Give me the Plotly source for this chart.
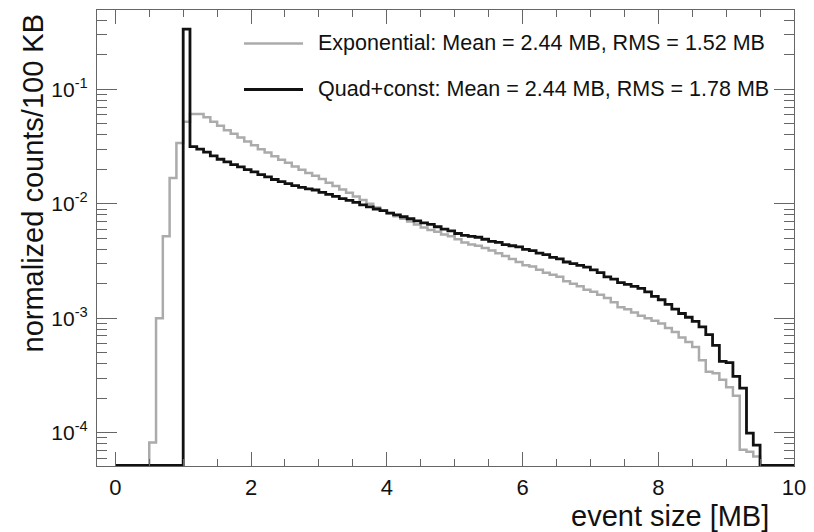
import numpy as np
import plotly.graph_objects as go

# bin edges: 100 bins of 0.1 MB (100 KB) from 0 to 10 MB
bin_edges = [round(0.1 * i, 1) for i in range(101)]

exp_counts = [
    0, 0, 0, 0, 0, 8.2e-5, 1.0e-3, 5.2e-3, 0.0168, 0.034,
    0.052, 0.061, 0.061, 0.057, 0.052, 0.048, 0.044, 0.041, 0.038, 0.035,
    0.0325, 0.030, 0.028, 0.026, 0.0243, 0.0228, 0.0212, 0.0198, 0.0186, 0.0176,
    0.0165, 0.0153, 0.0143, 0.0133, 0.0125, 0.0116, 0.0108, 0.0100, 0.0093, 0.0087,
    0.0083, 0.0078, 0.0074, 0.0070, 0.0066, 0.0062, 0.0059, 0.0057, 0.0054, 0.0052,
    0.0049, 0.0046, 0.0044, 0.0043, 0.0041, 0.0039, 0.0037, 0.0035, 0.0033, 0.0031,
    0.0029, 0.00283, 0.00265, 0.0025, 0.0024, 0.0023, 0.0021, 0.0020, 0.0019, 0.00177,
    0.00170, 0.00160, 0.00150, 0.00138, 0.00125, 0.00120, 0.00112, 0.00105, 0.00100, 0.00095,
    0.00090, 0.00082, 0.00076, 0.00068, 0.00062, 0.00056, 0.00043, 0.00034, 0.00033, 0.00029,
    0.00025, 0.00021, 7.1e-5, 6.8e-5, 6.2e-5, 0, 0, 0, 0, 0,
]

quad_counts = [
    0, 0, 0, 0, 0, 0, 0, 0, 0, 0,
    0.336, 0.0316, 0.0300, 0.0283, 0.0262, 0.0245, 0.0232, 0.0220, 0.0210, 0.0199,
    0.0190, 0.0180, 0.0172, 0.0163, 0.0156, 0.0150, 0.0144, 0.0139, 0.0135, 0.0132,
    0.0126, 0.0121, 0.0116, 0.0111, 0.0107, 0.0103, 0.0098, 0.0094, 0.0090, 0.0087,
    0.0083, 0.0080, 0.0077, 0.0074, 0.0071, 0.0068, 0.0066, 0.0063, 0.0060, 0.0058,
    0.0055, 0.0053, 0.0052, 0.0051, 0.0049, 0.0047, 0.0046, 0.0044, 0.0043, 0.0042,
    0.0040, 0.0039, 0.0037, 0.0036, 0.0034, 0.0033, 0.0031, 0.0030, 0.0029, 0.0028,
    0.00265, 0.0025, 0.0023, 0.0022, 0.00205, 0.00198, 0.0019, 0.00182, 0.00170, 0.00155,
    0.00145, 0.00132, 0.00120, 0.00110, 0.00102, 0.00094, 0.00084, 0.00072, 0.00058, 0.00042,
    0.00041, 0.00031, 0.000245, 9.9e-5, 7.8e-5, 0, 0, 0, 0, 0,
]

legend_labels = [
    "Exponential: Mean = 2.44 MB, RMS = 1.52 MB",
    "Quad+const: Mean = 2.44 MB, RMS = 1.78 MB",
]

x_ticks = [0, 2, 4, 6, 8, 10]
y_ticks = [1e-4, 1e-3, 1e-2, 1e-1]
y_ticktext = ["10<sup>-4</sup>", "10<sup>-3</sup>", "10<sup>-2</sup>", "10<sup>-1</sup>"]

W, H = 814, 532
L, R, T, B = 97, 20, 10, 66
y_range = [-4.291, -0.307]
x_range = [-0.27, 10.0]
floor = 10 ** y_range[0] * 1.01

FONT = "Liberation Sans, Arial, Helvetica, sans-serif"
AXIS_COL = "#666666"


def step_xy(counts):
    y = np.maximum(np.array(counts, dtype=float), floor)
    y = np.append(y, y[-1])
    return bin_edges, y


fig = go.Figure()
styles = [dict(color="#ababab", width=2.5), dict(color="#111111", width=2.8)]
for counts, st, name in zip([exp_counts, quad_counts], styles, legend_labels):
    xs, ys = step_xy(counts)
    fig.add_trace(
        go.Scatter(
            x=xs, y=ys, mode="lines", line=dict(shape="hv", **st),
            name=name, showlegend=False, hoverinfo="skip",
        )
    )

# legend drawn by hand (ROOT style)
plot_w = W - L - R
plot_h = H - T - B
for i, (name, st) in enumerate(zip(legend_labels, styles)):
    ypx = 43.5 + 46 * i
    yp = 1 - (ypx - T) / plot_h
    x0 = (244 - L) / plot_w
    x1 = (303 - L) / plot_w
    fig.add_shape(type="line", xref="paper", yref="paper", x0=x0, x1=x1, y0=yp, y1=yp,
                  line=dict(color=st["color"], width=st["width"]))
    fig.add_annotation(xref="paper", yref="paper", x=(316 - L) / plot_w, y=yp,
                       text=name, showarrow=False, xanchor="left", yanchor="middle",
                       font=dict(family=FONT, size=21.5, color="#111111"))

fig.add_annotation(xref="paper", yref="paper", x=(771 - L) / plot_w, y=-(516 - (H - B)) / plot_h,
                   text="event size [MB]", showarrow=False, xanchor="right", yanchor="middle",
                   font=dict(family=FONT, size=29, color="#111111"))
fig.add_annotation(xref="paper", yref="paper", x=-(L - 32) / plot_w, y=1 - (12 - T) / plot_h,
                   text="normalized counts/100 KB", showarrow=False, textangle=-90,
                   xanchor="center", yanchor="top",
                   font=dict(family=FONT, size=29, color="#111111"))

fig.update_xaxes(
    range=x_range, tickvals=x_ticks, ticktext=[str(v) for v in x_ticks],
    ticks="inside", ticklen=14, tickcolor=AXIS_COL, tickwidth=1,
    minor=dict(dtick=0.5, ticks="inside", ticklen=7, tickcolor=AXIS_COL),
    showline=True, linecolor=AXIS_COL, linewidth=1.2, mirror="ticks",
    showgrid=False, zeroline=False, automargin=False, ticklabelstandoff=1,
    tickfont=dict(family=FONT, size=22, color="#111111"),
)
fig.update_yaxes(
    type="log", range=y_range, tickvals=y_ticks, ticktext=y_ticktext,
    ticks="inside", ticklen=20, tickcolor=AXIS_COL, tickwidth=1,
    minor=dict(dtick="D1", ticks="inside", ticklen=10, tickcolor=AXIS_COL),
    showline=True, linecolor=AXIS_COL, linewidth=1.2, mirror="ticks",
    showgrid=False, zeroline=False, automargin=False, ticklabelstandoff=4,
    tickfont=dict(family=FONT, size=21, color="#111111"),
)
fig.update_layout(
    width=W, height=H,
    margin=dict(l=L, r=R, t=T, b=B),
    paper_bgcolor="white", plot_bgcolor="white",
    showlegend=False,
)
# drop the browser's default page margin so the figure sits at the window corner
fig.write_html(
    "out.html",
    config={"displayModeBar": False},
    post_script="document.body.style.margin='0px';",
)
